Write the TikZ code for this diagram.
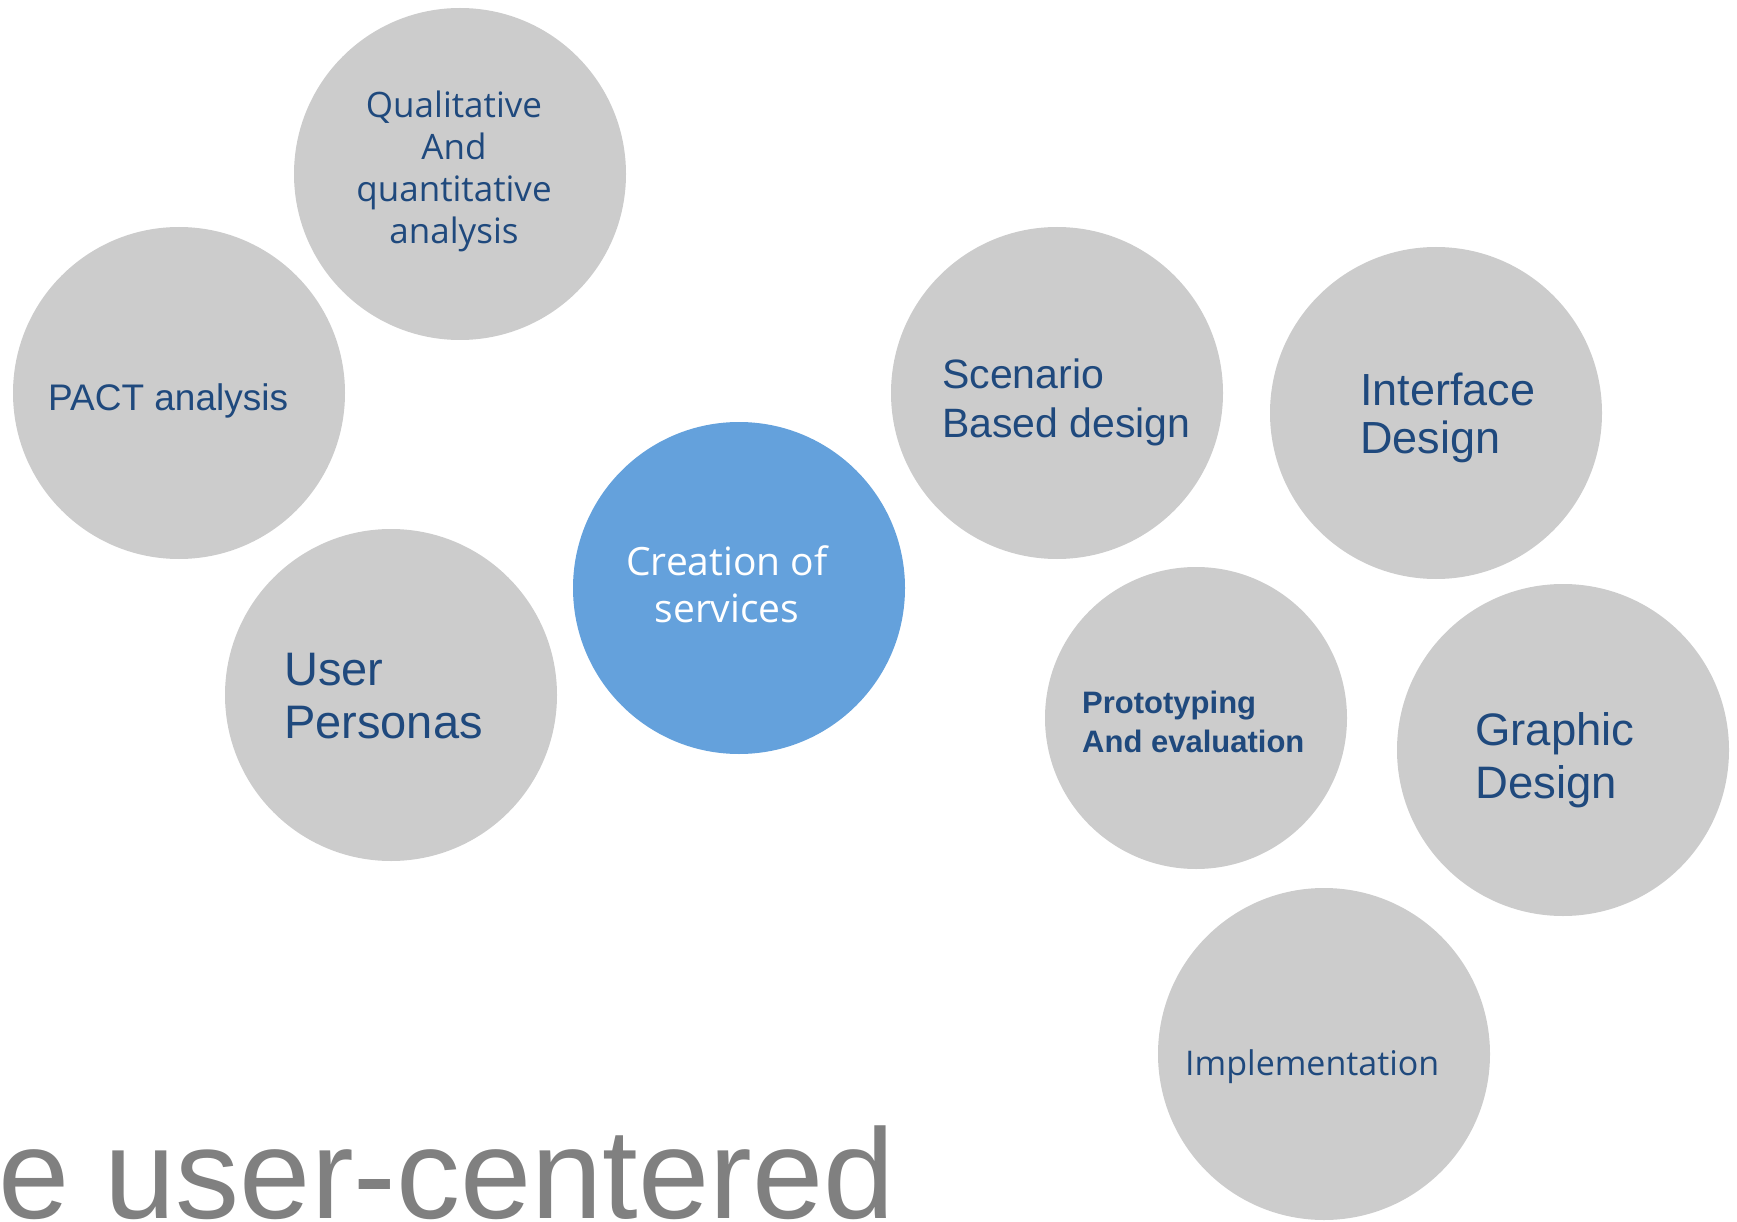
\documentclass[tikz,border=0pt]{standalone}
\usepackage{fontspec}
\setmainfont{Liberation Sans}
\newfontfamily\osfont{Open Sans}
\definecolor{bubblegray}{RGB}{204,204,204}
\definecolor{bubbleblue}{RGB}{100,161,220}
\definecolor{labelblue}{RGB}{31,73,125}
\definecolor{titlegray}{RGB}{128,128,128}

\begin{document}
\begin{tikzpicture}
[x=1pt,y=-1pt,
bubble/.style={circle, minimum size = 332pt, inner sep=0pt, fill=bubblegray},
bubblea/.style={bubble,fill=bubbleblue},
lbl/.style={labelblue, inner sep=0pt, anchor=base west, align=left},
]
\useasboundingbox (0,0) rectangle (1737,1222);

\node[bubble] (qualc) at (460,174){};
\node[bubble] (pactc) at (179,393){};
\node[bubble] (persc) at (391,695){};
\node[bubblea] (creac) at (739,588){};
\node[bubble] (scenc) at (1057,393){};
\node[bubble] (intc) at (1436,413){};
\node[bubble, minimum size = 302pt] (protc) at (1196,718){};
\node[bubble] (grapc) at (1563,750){};
\node[bubble] (implc) at (1324,1054){};

% label positions are the baselines of the last lines
\node[lbl, anchor=base, align=center, font=\osfont\fontsize{35}{42}\selectfont] (qual) at (454,244)
  {Qualitative\\And\\quantitative\\analysis};
\node[lbl, font=\fontsize{37}{44}\selectfont] (pact) at (48,410) {PACT analysis};
\node[lbl, font=\fontsize{47}{53}\selectfont] (pers) at (284,738) {User\\Personas};
\node[lbl, anchor=base, align=center, white, font=\osfont\fontsize{39}{47}\selectfont] (crea) at (727,622)
  {Creation of\\services};
\node[lbl, font=\fontsize{41}{49}\selectfont] (scen) at (942,437) {Scenario\\Based design};
\node[lbl, font=\fontsize{45}{48}\selectfont] (int) at (1360,453) {Interface\\Design};
\node[lbl, font=\bfseries\fontsize{31}{39}\selectfont] (prot) at (1082,752) {Prototyping\\And evaluation};
\node[lbl, font=\fontsize{45.5}{53}\selectfont] (grap) at (1475,798) {Graphic\\Design};
\node[lbl, font=\osfont\fontsize{34}{40}\selectfont] (impl) at (1185,1075) {Implementation};

\node[inner sep=0pt, anchor=base west, titlegray, font=\fontsize{128}{150}\selectfont] (title) at (-2,1218)
  {e user-centered};
\end{tikzpicture}
\end{document}
